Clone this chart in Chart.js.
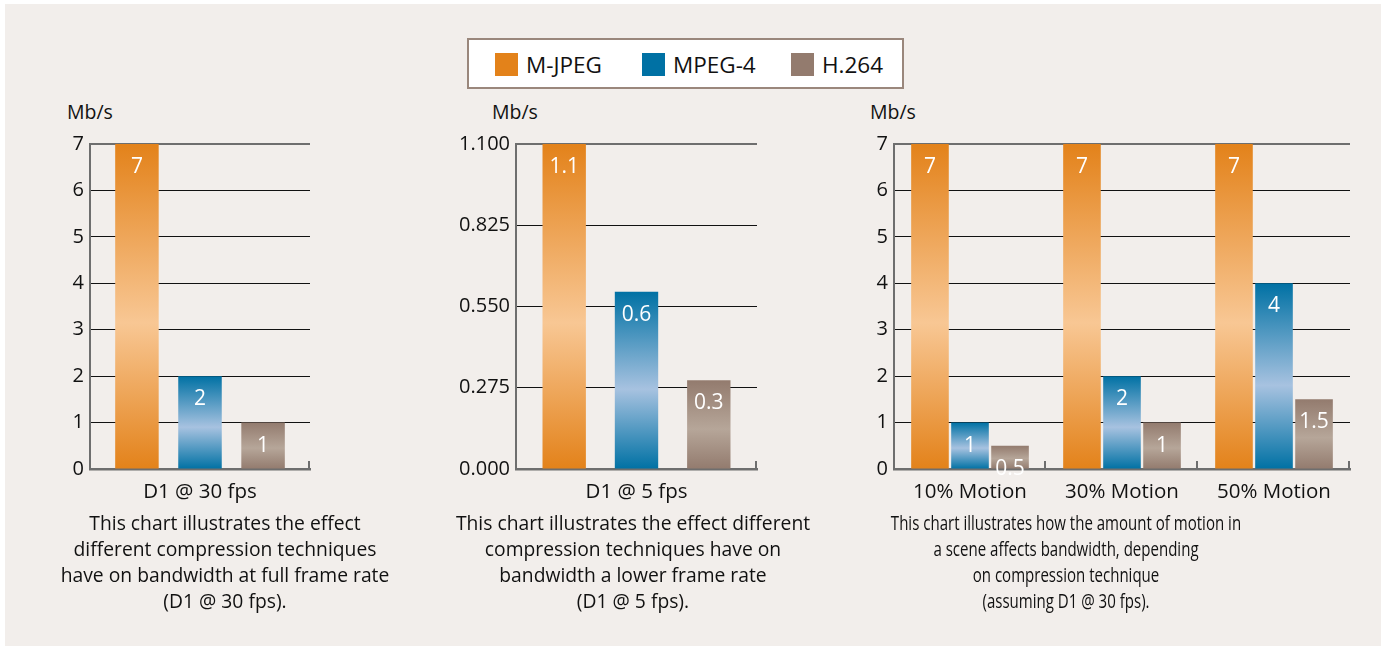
<!DOCTYPE html>
<html>
<head>
<meta charset="utf-8">
<script src="https://cdn.jsdelivr.net/npm/chart.js@4.4.1/dist/chart.umd.min.js"></script>
<style>
  body { margin: 0; background: #fff; font-family: "Open Sans", sans-serif; color: #111; }
  #panel { position: absolute; left: 5px; top: 4px; width: 1376px; height: 642px; background: #f2eeeb; }
  .box { position: absolute; }
  .unit { position: absolute; font-size: 19.5px; }
  .caption { position: absolute; font-size: 19.3px; line-height: 26px; text-align: center; width: 500px; white-space: nowrap; }
  #legend { position: absolute; left: 467px; top: 38px; width: 433px; height: 47px; background: #fff; border: 2px solid #9a877c; }
  .item { position: absolute; top: 12px; font-size: 22.5px; line-height: 25px; }
  .sw { display: inline-block; width: 23px; height: 23px; vertical-align: top; margin-top: 1px; margin-right: 8px; }
</style>
</head>
<body>
<div id="panel"></div>

<div id="legend">
  <div class="item" style="left:26px"><span class="sw" style="background:#e3821a"></span>M-JPEG</div>
  <div class="item" style="left:173px"><span class="sw" style="background:#0071a4"></span>MPEG-4</div>
  <div class="item" style="left:322px"><span class="sw" style="background:#937b6e"></span>H.264</div>
</div>

<div class="unit" style="left:67px; top:98px">Mb/s</div>
<div class="unit" style="left:492px; top:98px">Mb/s</div>
<div class="unit" style="left:870px; top:98px">Mb/s</div>

<div class="box" style="left:20px; top:100px; width:295px; height:420px"><canvas id="c1"></canvas></div>
<div class="box" style="left:446px; top:100px; width:316px; height:420px"><canvas id="c2"></canvas></div>
<div class="box" style="left:824px; top:100px; width:531px; height:420px"><canvas id="c3"></canvas></div>

<div class="caption" style="left:-25px; top:510px">This chart illustrates the effect<br>different compression techniques<br>have on bandwidth at full frame rate<br>(D1 @ 30 fps).</div>
<div class="caption" style="left:383px; top:510px">This chart illustrates the effect different<br>compression techniques have on<br>bandwidth a lower frame rate<br>(D1 @ 5 fps).</div>
<div class="caption" style="left:816px; top:510px; transform: scaleX(0.78); transform-origin: 250px 0">This chart illustrates how the amount of motion in<br>a scene affects bandwidth, depending<br>on compression technique<br>(assuming D1 @ 30 fps).</div>

<script>
// datos
const seriesNames = ['M-JPEG', 'MPEG-4', 'H.264'];

const fullRateCats = ['D1 @ 30 fps'];
const fullRateMjpeg = [7];
const fullRateMpeg4 = [2];
const fullRateH264 = [1];
const fullRateTicks = [0, 1, 2, 3, 4, 5, 6, 7];

const lowRateCats = ['D1 @ 5 fps'];
const lowRateMjpeg = [1.1];
const lowRateMpeg4 = [0.6];
const lowRateH264 = [0.3];
const lowRateTicks = [0, 0.275, 0.55, 0.825, 1.1];

const motionCats = ['10% Motion', '30% Motion', '50% Motion'];
const motionMjpeg = [7, 7, 7];
const motionMpeg4 = [1, 2, 4];
const motionH264 = [0.5, 1, 1.5];
const motionTicks = [0, 1, 2, 3, 4, 5, 6, 7];

// colores: oscuro / claro
const COLORS = [
  ['#e3821a', '#f8c794'],
  ['#0071a4', '#a7c2e0'],
  ['#937b6e', '#b6a699']
];
const AXIS_GRAY = '#6e6e6e';
const FONT = '"Open Sans", sans-serif';

function barGradient(ctx, idx) {
  const chart = ctx.chart;
  const y = chart.scales.y;
  if (!chart.chartArea || !y || ctx.parsed === undefined) return COLORS[idx][0];
  const top = y.getPixelForValue(ctx.parsed.y);
  const base = y.getPixelForValue(0);
  if (!isFinite(top) || !isFinite(base) || base - top < 1) return COLORS[idx][0];
  const g = chart.ctx.createLinearGradient(0, top, 0, base);
  g.addColorStop(0, COLORS[idx][0]);
  g.addColorStop(0.55, COLORS[idx][1]);
  g.addColorStop(1, COLORS[idx][0]);
  return g;
}

// etiquetas blancas dentro de las barras + marcas pequeñas en el eje x
const extras = {
  id: 'extras',
  afterDatasetsDraw(chart) {
    const c = chart.ctx;
    c.save();
    c.fillStyle = '#fff';
    c.font = '21px ' + FONT;
    c.textAlign = 'center';
    c.textBaseline = 'middle';
    chart.data.datasets.forEach((ds, i) => {
      chart.getDatasetMeta(i).data.forEach((bar, j) => {
        c.fillText(String(ds.data[j]), bar.x, bar.y + 23);
      });
    });
    const x = chart.scales.x;
    const area = chart.chartArea;
    const half = area.width / chart.data.labels.length / 2;
    c.strokeStyle = AXIS_GRAY;
    c.lineWidth = 2;
    chart.data.labels.forEach((l, j) => {
      const px = x.getPixelForValue(j) + half - 1;
      c.beginPath();
      c.moveTo(px, area.bottom - 8);
      c.lineTo(px, area.bottom);
      c.stroke();
    });
    c.restore();
  }
};

function makeChart(id, cats, a, b, h, ticks, decimals, catPct, barPct) {
  const max = ticks[ticks.length - 1];
  new Chart(document.getElementById(id), {
    type: 'bar',
    data: {
      labels: cats,
      datasets: [a, b, h].map((d, i) => ({
        label: seriesNames[i],
        data: d,
        backgroundColor: ctx => barGradient(ctx, i),
        borderWidth: 0,
        categoryPercentage: catPct,
        barPercentage: barPct
      }))
    },
    options: {
      animation: false,
      responsive: true,
      maintainAspectRatio: false,
      layout: { padding: { top: 44, right: 5, left: 0, bottom: 0 } },
      plugins: { legend: { display: false }, tooltip: { enabled: false } },
      scales: {
        x: {
          grid: { display: false },
          border: { color: AXIS_GRAY, width: 2.5 },
          ticks: { color: '#111', font: { family: FONT, size: 20.5 }, padding: 3 },
          afterFit: s => { s.height = 51; }
        },
        y: {
          min: 0,
          max: max,
          afterBuildTicks: s => { s.ticks = ticks.map(v => ({ value: v })); },
          grid: {
            drawTicks: false,
            color: ctx => ctx.tick.value === 0 ? 'rgba(0,0,0,0)' : (ctx.tick.value === max ? AXIS_GRAY : '#111'),
            lineWidth: ctx => ctx.tick.value === max ? 2 : 1
          },
          border: { color: AXIS_GRAY, width: 2 },
          ticks: {
            color: '#111',
            font: { family: FONT, size: 20 },
            padding: 6,
            callback: v => Number(v).toFixed(decimals)
          },
          afterFit: s => { s.width = 70; }
        }
      }
    },
    plugins: [extras]
  });
}

makeChart('c1', fullRateCats, fullRateMjpeg, fullRateMpeg4, fullRateH264, fullRateTicks, 0, 0.86, 0.69);
makeChart('c2', lowRateCats, lowRateMjpeg, lowRateMpeg4, lowRateH264, lowRateTicks, 3, 0.9, 0.6);
makeChart('c3', motionCats, motionMjpeg, motionMpeg4, motionH264, motionTicks, 0, 0.79, 0.94);
</script>
</body>
</html>
